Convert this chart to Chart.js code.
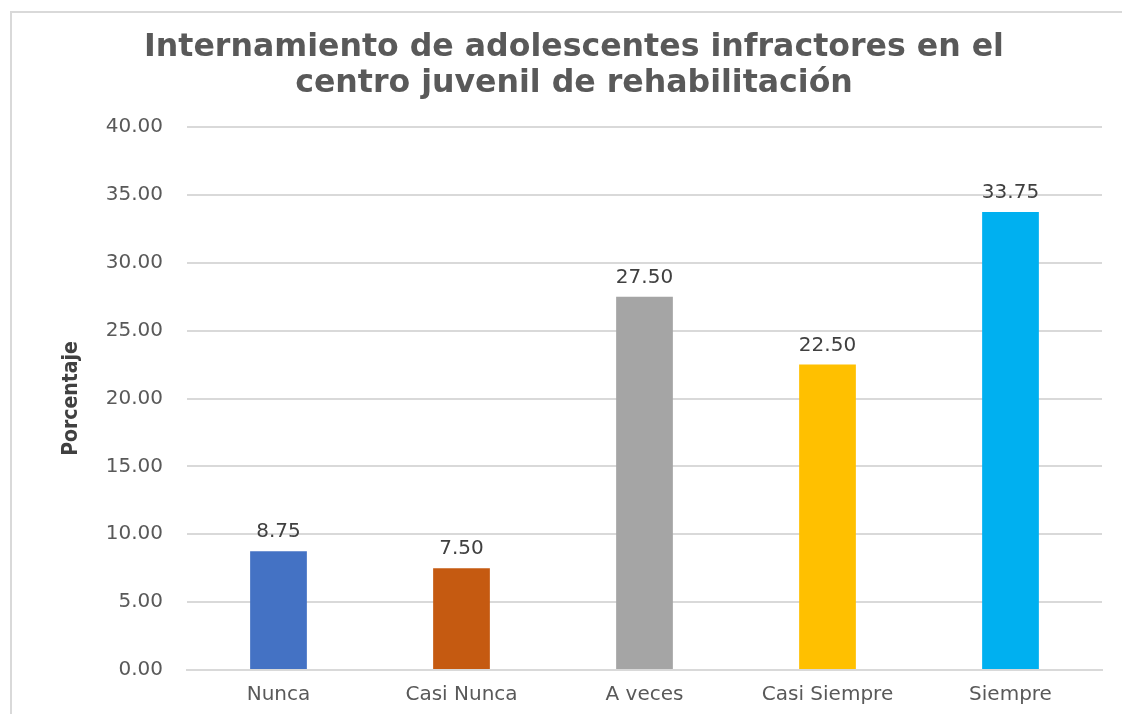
<!DOCTYPE html>
<html>
<head>
<meta charset="utf-8">
<script src="https://cdn.jsdelivr.net/npm/chart.js@4/dist/chart.umd.min.js"></script>
<style>
  html, body { margin: 0; padding: 0; background: #fff; overflow: hidden; }
  #wrap { width: 1122px; height: 714px; position: relative; }
  canvas { display: block; }
</style>
</head>
<body>
<div id="wrap"><canvas id="chart"></canvas></div>
<script>
// datos
const categorias = ['Nunca', 'Casi Nunca', 'A veces', 'Casi Siempre', 'Siempre']
const porcentajes = [8.75, 7.50, 27.50, 22.50, 33.75]
const colores = ['#4472C4', '#C55A11', '#A5A5A5', '#FFC000', '#00B0F0']
const titulo = ['Internamiento de adolescentes infractores en el', 'centro juvenil de rehabilitación']
const tituloEje = 'Porcentaje'

// marco gris (solo lados izquierdo y superior quedan dentro de la imagen)
const marco = {
  id: 'marco',
  beforeDraw(chart) {
    const c = chart.ctx
    c.save()
    c.fillStyle = '#fff'
    c.fillRect(0, 0, chart.width, chart.height)
    c.strokeStyle = '#d9d9d9'
    c.lineWidth = 2
    c.beginPath()
    c.moveTo(11, chart.height)
    c.lineTo(11, 12)
    c.lineTo(chart.width, 12)
    c.stroke()
    c.restore()
  }
}

// etiquetas de valor encima de cada barra
const etiquetas = {
  id: 'etiquetas',
  afterDatasetsDraw(chart) {
    const c = chart.ctx
    const meta = chart.getDatasetMeta(0)
    c.save()
    c.font = '20px "DejaVu Sans"'
    c.fillStyle = '#404040'
    c.textAlign = 'center'
    c.textBaseline = 'bottom'
    meta.data.forEach((bar, i) => {
      c.fillText(porcentajes[i].toFixed(2), bar.x, bar.y - 9)
    })
    c.restore()
  }
}

new Chart(document.getElementById('chart'), {
  type: 'bar',
  data: {
    labels: categorias,
    datasets: [{
      data: porcentajes,
      backgroundColor: colores,
      categoryPercentage: 1,
      barPercentage: 0.31
    }]
  },
  options: {
    responsive: true,
    maintainAspectRatio: false,
    animation: false,
    layout: { padding: { left: 46, right: 20, top: 0, bottom: 0 } },
    plugins: {
      legend: { display: false },
      tooltip: { enabled: false },
      title: {
        display: true,
        text: titulo,
        color: '#595959',
        font: { family: 'DejaVu Sans', size: 31.6, weight: 'bold', lineHeight: 1.14 },
        padding: { top: 30, bottom: 25 }
      }
    },
    scales: {
      x: {
        grid: { display: false, drawTicks: false },
        border: { color: '#d9d9d9', width: 2 },
        ticks: { color: '#595959', font: { family: 'DejaVu Sans', size: 20 }, padding: 13 },
        afterFit(scale) { scale.height = 44 }
      },
      y: {
        min: 0,
        max: 40,
        grid: { color: '#d9d9d9', lineWidth: 2, drawTicks: false },
        border: { display: false },
        ticks: {
          stepSize: 5,
          color: '#595959',
          font: { family: 'DejaVu Sans', size: 20 },
          padding: 24,
          callback: v => v.toFixed(2)
        },
        title: {
          display: true,
          text: tituloEje,
          color: '#404040',
          font: { family: "'DejaVu Sans Condensed', Roboto, sans-serif", size: 21, weight: 'bold' },
          padding: { top: 13, bottom: 0 }
        },
        afterFit(scale) { scale.width = 141 }
      }
    }
  },
  plugins: [marco, etiquetas]
})
</script>
</body>
</html>
